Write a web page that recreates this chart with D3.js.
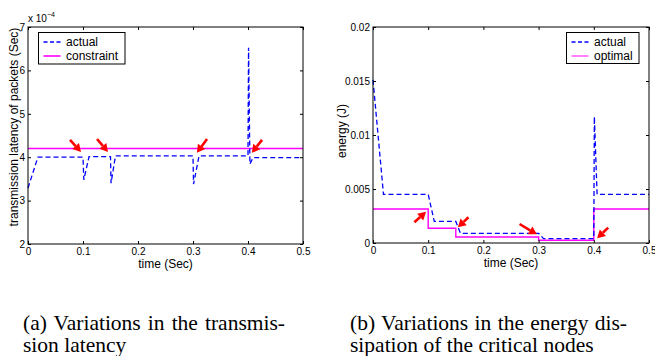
<!DOCTYPE html>
<html>
<head>
<meta charset="utf-8">
<script src="https://cdn.jsdelivr.net/npm/d3@7"></script>
<style>
  body { margin: 0; background: #fff; }
</style>
</head>
<body>
<svg id="chart" width="655" height="356" font-family="'Liberation Sans', Arial, sans-serif"></svg>
<script>
// ---- data ----
const xTicks = [0, 0.1, 0.2, 0.3, 0.4, 0.5];

// (a) transmission latency, in units of 1e-4 s
const latTicks = [2, 3, 4, 5, 6, 7];
const latTime   = [0, 0.018, 0.1, 0.1015, 0.111, 0.15, 0.151, 0.159, 0.3, 0.301, 0.311, 0.4, 0.401, 0.4035, 0.409, 0.5];
const latActual = [3.29, 4.0, 4.0, 3.48, 4.015, 4.015, 3.40, 4.03, 4.03, 3.38, 4.03, 4.03, 6.52, 3.84, 3.99, 3.99];
const latConstTime = [0, 0.5];
const latConstVal  = [4.2, 4.2];
// arrows: [tail t, tail v, tip t, tip v]
const latArrows = [
  [0.0764, 4.40, 0.0964, 4.12],
  [0.1255, 4.42, 0.1455, 4.12],
  [0.3255, 4.42, 0.307, 4.10],
  [0.4255, 4.40, 0.407, 4.10]
];

// (b) energy dissipation, J
const enTicks = [0, 0.005, 0.01, 0.015, 0.02];
const enTime   = [0, 0.019, 0.1, 0.111, 0.15, 0.1585, 0.3, 0.309, 0.4, 0.401, 0.406, 0.5];
const enActual = [0.0151, 0.0045, 0.0045, 0.002, 0.002, 0.0009, 0.0009, 0.0004, 0.0004, 0.0117, 0.0045, 0.0045];
const optTime  = [0, 0.1, 0.15, 0.3, 0.4, 0.5];
const optVal   = [0.00315, 0.00136, 0.00056, 0.00025, 0.00315, 0.00315];
const enArrows = [
  [0.075, 0.00192, 0.0962, 0.0029],
  [0.173, 0.00238, 0.1537, 0.00145],
  [0.2655, 0.00176, 0.297, 0.0008],
  [0.426, 0.00142, 0.406, 0.00044]
];

const captionA = ["(a) Variations in the transmis-", "sion latency"];
const captionB = ["(b) Variations in the energy dis-", "sipation of the critical nodes"];

// ---- drawing ----
const svg = d3.select("#chart");
const BLUE = "#0000ff", MAGENTA = "#ff00ff", RED = "#ff0000";

function drawArrow(g, x1, y1, x2, y2) {
    const ang = Math.atan2(y2 - y1, x2 - x1);
    const headLen = 8, headW = 4.5;
    const bx = x2 - headLen * Math.cos(ang), by = y2 - headLen * Math.sin(ang);
    g.append("line")
        .attr("x1", x1).attr("y1", y1).attr("x2", bx).attr("y2", by)
        .attr("stroke", RED).attr("stroke-width", 2.6);
    const px = -Math.sin(ang) * headW, py = Math.cos(ang) * headW;
    g.append("path")
        .attr("d", `M${x2},${y2}L${bx + px},${by + py}L${bx - px},${by - py}Z`)
        .attr("fill", RED);
}

function panel(opt) {
    const x = d3.scaleLinear().domain([0, 0.5]).range([opt.left, opt.right]);
    const y = d3.scaleLinear().domain(opt.yDomain).range([opt.bottom, opt.top]);
    const g = svg.append("g");

    const line = d3.line().x(d => x(d[0])).y(d => y(d[1]));

    // series
    opt.series.forEach(s => {
        g.append("path")
            .datum(d3.zip(s.t, s.v))
            .attr("d", line.curve(s.curve || d3.curveLinear))
            .attr("fill", "none")
            .attr("stroke", s.color)
            .attr("stroke-width", s.width)
            .attr("stroke-dasharray", s.dash || null);
    });

    // box
    g.append("rect")
        .attr("x", opt.left).attr("y", opt.top)
        .attr("width", opt.right - opt.left).attr("height", opt.bottom - opt.top)
        .attr("fill", "none").attr("stroke", "#000").attr("stroke-width", 1);

    // axes, matlab style inward ticks
    const ax = (gen, tx, ty) => {
        const a = g.append("g").attr("transform", `translate(${tx},${ty})`).call(gen);
        a.attr("font-family", null);
        a.select(".domain").remove();
        a.selectAll("text").style("font-size", "10px").attr("fill", "#000");
        return a;
    };
    ax(d3.axisBottom(x).tickValues(xTicks).tickSize(-3).tickPadding(4).tickFormat(d3.format("~g")), 0, opt.bottom);
    ax(d3.axisTop(x).tickValues(xTicks).tickSize(-3).tickFormat(""), 0, opt.top);
    ax(d3.axisLeft(y).tickValues(opt.yTicks).tickSize(-3).tickPadding(3).tickFormat(d3.format("~g")), opt.left, 0);
    ax(d3.axisRight(y).tickValues(opt.yTicks).tickSize(-3).tickFormat(""), opt.right, 0);

    // arrows
    opt.arrows.forEach(a => drawArrow(g, x(a[0]), y(a[1]), x(a[2]), y(a[3])));

    // labels
    g.append("text")
        .attr("x", (opt.left + opt.right) / 2).attr("y", opt.bottom + 23.5)
        .attr("text-anchor", "middle").style("font-size", "12px")
        .text("time (Sec)");
    g.append("text")
        .attr("transform", `translate(${opt.yLabelX},${opt.yLabelY}) rotate(-90)`)
        .attr("text-anchor", "middle").attr("dy", "0.35em").style("font-size", "12px")
        .text(opt.yLabel);

    // legend
    const L = opt.legend;
    const lg = g.append("g");
    lg.append("rect")
        .attr("x", L.x).attr("y", L.y).attr("width", L.w).attr("height", L.h)
        .attr("fill", "#fff").attr("stroke", "#000").attr("stroke-width", 1);
    L.items.forEach((it, i) => {
        const yy = L.y + 9.5 + i * 14;
        lg.append("line")
            .attr("x1", L.x + 5).attr("x2", L.x + 22).attr("y1", yy).attr("y2", yy)
            .attr("stroke", it.color).attr("stroke-width", it.width)
            .attr("stroke-dasharray", it.dash || null);
        lg.append("text")
            .attr("x", L.x + 27.5).attr("y", yy + 4.2)
            .style("font-size", "12px").text(it.label);
    });
    return g;
}

panel({
    left: 28, right: 303, top: 27, bottom: 244,
    yDomain: [2, 7], yTicks: latTicks,
    series: [
        { t: latConstTime, v: latConstVal, color: MAGENTA, width: 1.4 },
        { t: latTime, v: latActual, color: BLUE, width: 1.3, dash: "5,3" }
    ],
    arrows: latArrows,
    yLabel: "transmission latency of packets (Sec)", yLabelX: 13.5, yLabelY: 127,
    legend: { x: 38.5, y: 32.5, w: 86.5, h: 31.5, items: [
        { label: "actual", color: BLUE, width: 1.3, dash: "4,2.5" },
        { label: "constraint", color: MAGENTA, width: 1.6 }
    ] }
});

panel({
    left: 373, right: 649, top: 27, bottom: 243,
    yDomain: [0, 0.02], yTicks: enTicks,
    series: [
        { t: optTime, v: optVal, color: MAGENTA, width: 1.4, curve: d3.curveStepAfter },
        { t: enTime, v: enActual, color: BLUE, width: 1.3, dash: "5,3" }
    ],
    arrows: enArrows,
    yLabel: "energy (J)", yLabelX: 342, yLabelY: 131,
    legend: { x: 566.5, y: 32.5, w: 72.5, h: 31, items: [
        { label: "actual", color: BLUE, width: 1.3, dash: "4,2.5" },
        { label: "optimal", color: MAGENTA, width: 1 }
    ] }
});

// x 10^-4 exponent
const ex = svg.append("text").attr("x", 28).attr("y", 22).style("font-size", "10px");
ex.append("tspan").text("x 10");
ex.append("tspan").attr("dy", -5).style("font-size", "7px").text("\u22124");

// captions: first line justified to the column width
function caption(lines, x0, width) {
    lines.forEach((ln, i) => {
        const t = svg.append("text")
            .attr("x", x0).attr("y", 329.5 + i * 22.5)
            .style("font-family", "'Liberation Serif', 'Times New Roman', 'DejaVu Serif', serif")
            .style("font-size", "21.5px").attr("fill", "#000").text(ln);
        if (i === 0) {
            const nat = t.node().getComputedTextLength();
            const gaps = ln.split(" ").length - 1;
            const extra = (width - nat) / gaps;
            if (extra > 0) t.style("word-spacing", extra + "px");
        }
    });
}
caption(captionA, 23, 262);
caption(captionB, 350, 277);
</script>
</body>
</html>
